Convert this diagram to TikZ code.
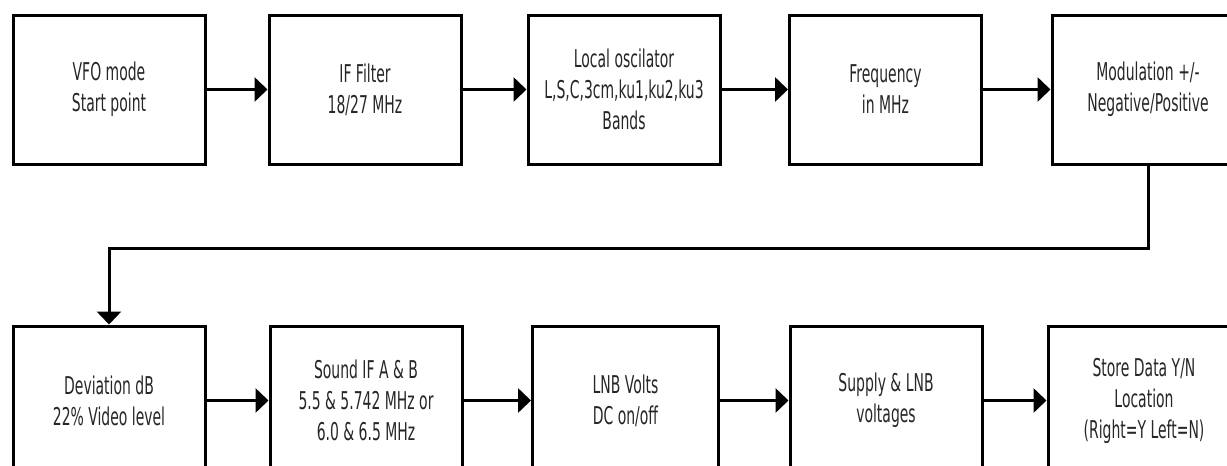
\documentclass[tikz,border=0pt]{standalone}
\usepackage{fontspec}
\setmainfont{DejaVu Sans}[FakeStretch=0.57]
\usetikzlibrary{arrows.meta}
\tikzset{
  stage/.style={draw, line width=3pt, minimum width=192pt, minimum height=149pt,
    inner sep=0pt, align=center, text=black!85,
    font=\fontsize{24.5pt}{31pt}\selectfont},
  flow/.style={line width=3.5pt, -{Triangle[length=13pt,width=24pt]}},
}
\begin{document}
\begin{tikzpicture}[x=1pt, y=-1pt]
    \useasboundingbox (0,0) rectangle (1227,466);
    \clip (0,0) rectangle (1227,466);
    % top row
    \node[stage] (vfo) at (109,89.5) {VFO mode\\Start point};
    \node[stage] (iff) at (365,89.5) {IF Filter\\18/27 MHz};
    \node[stage] (lo)  at (624,89.5) {Local oscilator\\L,S,C,3cm,ku1,ku2,ku3\\Bands};
    \node[stage] (frq) at (885.5,89.5) {Frequency\\in MHz};
    \node[stage] (mod) at (1148,89.5) {Modulation +/-\\Negative/Positive};
    % bottom row
    \node[stage] (dev) at (109,400.5) {Deviation dB\\22\% Video level};
    \node[stage] (snd) at (366,400.5) {Sound IF A \& B\\5.5 \& 5.742 MHz or\\6.0 \& 6.5 MHz};
    \node[stage, minimum width=186pt] (lnb) at (625.5,400.5) {LNB Volts\\DC on/off};
    \node[stage] (sup) at (886,400.5) {Supply \& LNB\\voltages};
    \node[stage] (sto) at (1144,400.5) {Store Data Y/N\\Location\\(Right=Y Left=N)};
    \draw[flow] (vfo) -- (iff);
    \draw[flow] (iff) -- (lo);
    \draw[flow] (lo) -- (frq);
    \draw[flow] (frq) -- (mod);
    \draw[flow, line width=3pt] (mod.south) -- ++(0,83) -| (dev.north);
    \draw[flow] (dev) -- (snd);
    \draw[flow] (snd) -- (lnb);
    \draw[flow] (lnb) -- (sup);
    \draw[flow] (sup) -- (sto);
\end{tikzpicture}
\end{document}
